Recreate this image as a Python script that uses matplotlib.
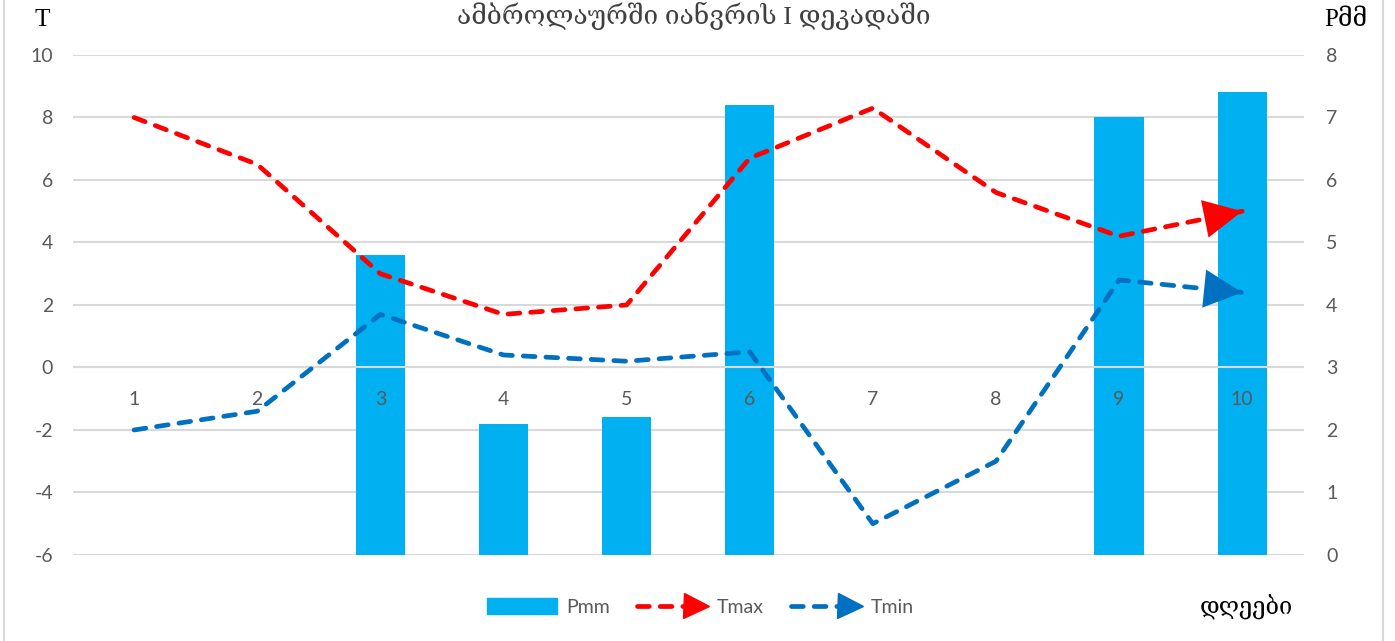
import numpy as np
import matplotlib
matplotlib.use('Agg')
import matplotlib.pyplot as plt
from matplotlib.lines import Line2D
from matplotlib.patches import Patch
from matplotlib.legend_handler import HandlerBase

# data
days = np.arange(1, 11)
tmax = [8.0, 6.5, 3.0, 1.7, 2.0, 6.7, 8.3, 5.6, 4.2, 5.0]
tmin = [-2.0, -1.4, 1.7, 0.4, 0.2, 0.5, -5.0, -3.0, 2.8, 2.4]
pmm = [0, 0, 4.8, 2.1, 2.2, 7.2, 0, 0, 7.0, 7.4]

title = 'ამბროლაურში იანვრის I დეკადაში'
bar_color = '#00B0F0'
red = '#FF0000'
blue = '#0070C0'
grey_txt = '#595959'
grid_c = '#D9D9D9'
sans = ['Lato', 'DejaVu Sans']
serif = ['Liberation Serif', 'DejaVu Serif', 'DejaVu Sans']

plt.rcParams['font.family'] = sans
plt.rcParams['axes.unicode_minus'] = False

fig = plt.figure(figsize=(13.95, 6.41), dpi=100)
ax = fig.add_axes([0.052, 0.1342, 0.8826, 0.78])
ax2 = ax.twinx()
ax.set_zorder(2)
ax.patch.set_visible(False)
ax2.set_zorder(1)

# bars on the right scale
ax2.bar(days, pmm, width=0.4, color=bar_color, zorder=2)
ax2.set_ylim(0, 8)
ax2.set_yticks(range(0, 9))
ax2.yaxis.grid(True, color=grid_c, lw=1.5, zorder=0)
ax2.set_axisbelow(True)

# temperatures on the left scale
lw = 3.4
dash = (0, (2.5, 2.3))
for vals, c in [(tmax, red), (tmin, blue)]:
    ax.plot(days, vals, color=c, lw=lw, linestyle=dash,
            dash_capstyle='round', solid_joinstyle='round', zorder=3)
    ax.annotate('', xy=(days[-1], vals[-1]), xytext=(days[-2], vals[-2]),
                arrowprops=dict(arrowstyle='-|>,head_length=1.1,head_width=0.55',
                                color=c, lw=0, shrinkA=0, shrinkB=0,
                                mutation_scale=25), zorder=4)
ax.axhline(0, color=grid_c, lw=1.5, zorder=2.5)
ax.set_ylim(-6, 10)
ax.set_yticks(range(-6, 11, 2))
ax.set_xlim(0.5, 10.5)
ax.set_xticks([])

for d in days:
    ax.annotate(str(d), xy=(d, 0), xytext=(0, -23), textcoords='offset points',
                ha='center', va='center', fontsize=14, color=grey_txt, zorder=5)

for a in (ax, ax2):
    for s in a.spines.values():
        s.set_visible(False)
    a.tick_params(axis='y', length=0, labelsize=14, labelcolor=grey_txt)
    a.tick_params(axis='x', length=0)
ax.tick_params(axis='y', pad=14)
ax2.tick_params(axis='y', pad=16)

# axis captions and title
fig.text(42 / 1395, 1 - 20 / 641, 'T', family=serif, fontsize=18,
         ha='center', va='center')
fig.text(1346 / 1395, 1 - 20 / 641, 'Pმმ', family=serif, fontsize=18,
         ha='center', va='center')
fig.text(0.497, 1 - 2 / 641, title, family=serif, fontsize=19,
         ha='center', va='top', color='#404040')
fig.text(1246 / 1395, 1 - 607 / 641, 'დღეები', family=serif, fontsize=17,
         ha='center', va='center')


class ArrowLineHandler(HandlerBase):
    def create_artists(self, legend, orig, xdescent, ydescent, width, height,
                       fontsize, trans):
        y = height / 2 - ydescent
        x0, x1 = -xdescent, width - xdescent
        c = orig.get_color()
        line = Line2D([x0, x1 - 8], [y, y], color=c, lw=lw,
                      linestyle=dash, dash_capstyle='round',
                      transform=trans)
        head = Line2D([x1 - 8], [y], marker='>', markersize=18, color=c,
                      linestyle='none', transform=trans)
        return [line, head]


handles = [Patch(color=bar_color),
           Line2D([], [], color=red),
           Line2D([], [], color=blue)]
leg = fig.legend(handles, ['Pmm', 'Tmax', 'Tmin'], loc='center',
                 bbox_to_anchor=(0.502, 1 - 607 / 641), ncol=3, frameon=False,
                 fontsize=14, handlelength=3.6, handleheight=0.85,
                 columnspacing=1.4, handletextpad=0.5,
                 handler_map={Line2D: ArrowLineHandler()})
for t in leg.get_texts():
    t.set_color(grey_txt)

# chart border
for x in (4 / 1395, 1383 / 1395):
    fig.add_artist(Line2D([x, x], [0, 1], transform=fig.transFigure,
                          color=grid_c, lw=1.5))

fig.savefig('out.png', dpi=100, facecolor='white')
